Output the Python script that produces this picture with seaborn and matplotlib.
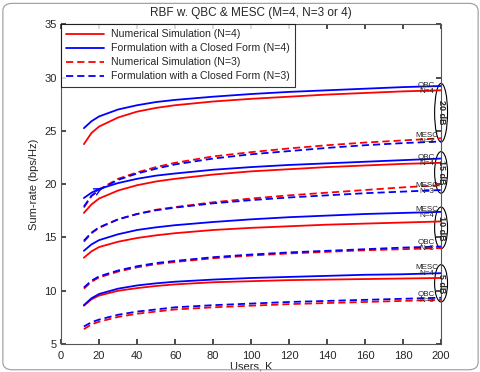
import numpy as np
import pandas as pd
import matplotlib
matplotlib.use("Agg")
import matplotlib.pyplot as plt
import seaborn as sns
from matplotlib.patches import Ellipse, FancyBboxPatch

K = [12, 16, 20, 30, 40, 50, 60, 80, 100, 120, 140, 160, 180, 200]

# 20 dB
qbc4_20_sim = [23.75, 24.8, 25.4, 26.25, 26.8, 27.15, 27.4, 27.75, 28.0, 28.2, 28.4, 28.55, 28.7, 28.8]
qbc4_20_cf = [25.25, 25.9, 26.35, 27.0, 27.4, 27.7, 27.9, 28.2, 28.45, 28.65, 28.8, 28.95, 29.1, 29.2]
mesc3_20_sim = [17.8, 18.9, 19.5, 20.5, 21.1, 21.6, 22.0, 22.6, 23.0, 23.35, 23.65, 23.9, 24.1, 24.3]
mesc3_20_cf = [17.9, 18.9, 19.45, 20.4, 21.0, 21.45, 21.85, 22.4, 22.8, 23.1, 23.4, 23.65, 23.85, 24.0]
# 15 dB
qbc4_15_sim = [17.3, 18.1, 18.65, 19.4, 19.9, 20.25, 20.5, 20.9, 21.2, 21.4, 21.6, 21.75, 21.9, 22.0]
qbc4_15_cf = [18.7, 19.2, 19.55, 20.1, 20.5, 20.8, 21.0, 21.35, 21.6, 21.8, 21.95, 22.1, 22.25, 22.4]
mesc3_15_sim = [14.6, 15.4, 15.9, 16.7, 17.2, 17.6, 17.85, 18.3, 18.65, 18.95, 19.2, 19.45, 19.7, 19.9]
mesc3_15_cf = [14.7, 15.45, 15.95, 16.7, 17.2, 17.55, 17.8, 18.2, 18.5, 18.75, 18.95, 19.15, 19.3, 19.45]
# 10 dB
mesc4_10_sim = [13.1, 13.7, 14.1, 14.6, 14.95, 15.2, 15.4, 15.7, 15.9, 16.05, 16.2, 16.3, 16.4, 16.5]
mesc4_10_cf = [13.75, 14.35, 14.75, 15.3, 15.7, 15.95, 16.15, 16.45, 16.7, 16.9, 17.05, 17.2, 17.3, 17.4]
qbc3_10_sim = [10.2, 10.85, 11.25, 11.8, 12.2, 12.5, 12.7, 13.05, 13.3, 13.5, 13.65, 13.8, 13.9, 14.0]
qbc3_10_cf = [10.3, 10.95, 11.35, 11.9, 12.3, 12.6, 12.8, 13.15, 13.4, 13.6, 13.75, 13.9, 14.05, 14.15]
# 5 dB
mesc4_5_sim = [8.6, 9.2, 9.55, 10.0, 10.25, 10.45, 10.6, 10.8, 10.9, 11.0, 11.05, 11.1, 11.15, 11.2]
mesc4_5_cf = [8.65, 9.3, 9.7, 10.2, 10.5, 10.7, 10.85, 11.05, 11.2, 11.3, 11.4, 11.5, 11.55, 11.65]
qbc3_5_sim = [6.4, 6.85, 7.1, 7.55, 7.85, 8.05, 8.25, 8.45, 8.6, 8.75, 8.85, 8.95, 9.05, 9.15]
qbc3_5_cf = [6.65, 7.05, 7.3, 7.75, 8.05, 8.25, 8.45, 8.65, 8.8, 8.95, 9.05, 9.15, 9.25, 9.35]

legend_labels = ["Numerical Simulation (N=4)", "Formulation with a Closed Form (N=4)",
                 "Numerical Simulation (N=3)", "Formulation with a Closed Form (N=3)"]

curve_labels = [("QBC\nN=4", 29.0), ("MESC\nN=3", 24.31), ("QBC\nN=4", 22.2), ("MESC\nN=3", 19.58),
                ("MESC\nN=4", 17.33), ("QBC\nN=3", 14.28), ("MESC\nN=4", 11.89), ("QBC\nN=3", 9.36)]
snr_labels = [("20 dB", 26.7, 5.5), ("15 dB", 21.1, 3.9), ("10 dB", 15.9, 3.9), ("5 dB", 10.7, 3.5)]

sns.set_theme(style="white")
plt.rcParams['font.family'] = ['Liberation Sans', 'DejaVu Sans']

fig = plt.figure(figsize=(4.81, 3.72), dpi=100)
ax = fig.add_axes([0.127, 0.075, 0.79, 0.86])

solid_series = [(qbc4_20_sim, qbc4_20_cf), (qbc4_15_sim, qbc4_15_cf),
                (mesc4_10_sim, mesc4_10_cf), (mesc4_5_sim, mesc4_5_cf)]
dashed_series = [(mesc3_20_sim, mesc3_20_cf), (mesc3_15_sim, mesc3_15_cf),
                 (qbc3_10_sim, qbc3_10_cf), (qbc3_5_sim, qbc3_5_cf)]

lw = 1.3
dash = (0, (4, 2.2))
for i, (sim, cf) in enumerate(solid_series):
    df = pd.DataFrame({"K": K, "sim": sim, "cf": cf})
    sns.lineplot(data=df, x="K", y="sim", color="#ff0000", lw=lw, ax=ax,
                 label=legend_labels[0] if i == 0 else None)
    sns.lineplot(data=df, x="K", y="cf", color="#0000ff", lw=lw, ax=ax,
                 label=legend_labels[1] if i == 0 else None)
for i, (sim, cf) in enumerate(dashed_series):
    df = pd.DataFrame({"K": K, "sim": sim, "cf": cf})
    sns.lineplot(data=df, x="K", y="sim", color="#ff0000", lw=lw, ax=ax, linestyle=dash,
                 label=legend_labels[2] if i == 0 else None)
    sns.lineplot(data=df, x="K", y="cf", color="#0000ff", lw=lw, ax=ax, linestyle=dash,
                 label=legend_labels[3] if i == 0 else None)

ax.set_xlim(0, 200)
ax.set_ylim(5, 35)
ax.set_xticks(range(0, 201, 20))
ax.set_yticks(range(5, 36, 5))
ax.tick_params(direction="in", length=3.5, labelsize=8, top=True, right=True,
               bottom=True, left=True, color="#333333")
ax.tick_params(axis="x", pad=5)
ax.tick_params(axis="y", pad=3)
for s in ax.spines.values():
    s.set_color("#555555")
    s.set_linewidth(0.8)
ax.set_xlabel("Users, K", fontsize=8, labelpad=0.5)
ax.set_ylabel("Sum-rate (bps/Hz)", fontsize=8, labelpad=4)
ax.set_title("RBF w. QBC & MESC (M=4, N=3 or 4)", fontsize=8.5, pad=6)

leg = ax.legend(loc="upper left", fontsize=7.6, frameon=True, fancybox=False,
                borderaxespad=0, handlelength=3.6, labelspacing=0.38, borderpad=0.5,
                handletextpad=0.6)
leg.get_frame().set_edgecolor("black")
leg.get_frame().set_linewidth(0.8)

for txt, y in curve_labels:
    ax.text(192.3, y, txt, fontsize=5.8, ha="center", va="center", linespacing=0.85)

for txt, y, h in snr_labels:
    ax.add_patch(Ellipse((200, y), 6.8, h, fill=False, edgecolor="black", lw=0.8, clip_on=False))
    ax.text(200.3, y, txt, rotation=-90, fontsize=6.5, fontweight="bold",
            ha="center", va="center", clip_on=False)

ax.annotate("", xy=(23, 19.75), xytext=(17, 19.2),
            arrowprops=dict(arrowstyle="->", color="#0000ff", lw=1.0))

fig.patches.append(FancyBboxPatch((0.006, 0.006), 0.988, 0.985, boxstyle="round,pad=0,rounding_size=0.02",
                                  transform=fig.transFigure, fill=False, edgecolor="#999999", lw=0.8))

fig.savefig("out.png", dpi=100)
